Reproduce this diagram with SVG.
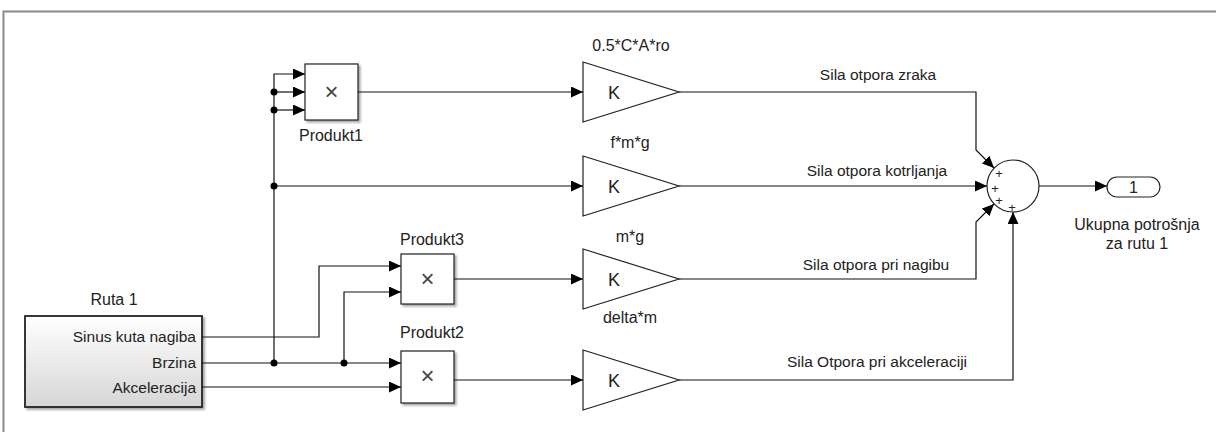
<svg xmlns="http://www.w3.org/2000/svg" width="1216" height="432" viewBox="0 0 1216 432">
<defs>
<marker id="arr" markerUnits="userSpaceOnUse" markerWidth="12" markerHeight="11" refX="12" refY="5.5" orient="auto"><path d="M0,0 L12,5.5 L0,11 z" fill="#000"/></marker>
<linearGradient id="rg" x1="0" y1="0" x2="0" y2="1"><stop offset="0" stop-color="#ffffff"/><stop offset="1" stop-color="#d6d6d6"/></linearGradient>
<filter id="sh" x="-10%" y="-10%" width="130%" height="130%"><feDropShadow dx="2" dy="2" stdDeviation="1.2" flood-color="#000" flood-opacity="0.35"/></filter>
</defs>
<style>
text{font-family:"Liberation Sans",Arial,sans-serif;fill:#222}
.lbl{font-size:16px;text-anchor:middle}
.sig{font-size:15.5px;text-anchor:middle}
.port{font-size:15.5px;text-anchor:end}
.k{font-size:18px;text-anchor:middle}
.x{font-size:24px;text-anchor:middle;fill:#444}
.blk{fill:#fff;stroke:#222;stroke-width:1.2}
.tri{fill:#fff;stroke:#222;stroke-width:1.2}
.w{fill:none;stroke:#111;stroke-width:1.2}
.dot{fill:#000}
.pl{font-size:13px;text-anchor:middle;fill:#222}
</style>
<rect width="1216" height="432" fill="#fff"/>
<path d="M3.5,432 V11.5 H1216" fill="none" stroke="#8a8a8a" stroke-width="2"/>

<g id="ruta1">
<text class="lbl" x="114" y="305">Ruta 1</text>
<rect x="25" y="316" width="177" height="91" fill="url(#rg)" stroke="#222" stroke-width="1.8" filter="url(#sh)"/>
<text class="port" x="196" y="342">Sinus kuta nagiba</text>
<text class="port" x="196" y="368">Brzina</text>
<text class="port" x="196" y="393">Akceleracija</text>
</g>

<g id="produkt1">
<rect class="blk" x="305" y="64" width="53" height="56" filter="url(#sh)"/>
<text class="x" x="331.5" y="100">×</text>
<text class="lbl" x="331" y="141">Produkt1</text>
</g>
<g id="produkt3">
<rect class="blk" x="401" y="254" width="53" height="50" filter="url(#sh)"/>
<text class="x" x="427.5" y="287">×</text>
<text class="lbl" x="432" y="245">Produkt3</text>
</g>
<g id="produkt2">
<rect class="blk" x="401" y="351" width="53" height="52" filter="url(#sh)"/>
<text class="x" x="427.5" y="384">×</text>
<text class="lbl" x="432" y="338">Produkt2</text>
</g>

<g id="gain1">
<polygon class="tri" points="583,62 583,122 679,92"/>
<text class="k" x="614" y="99">K</text>
<text class="lbl" x="631" y="51">0.5*C*A*ro</text>
</g>
<g id="gain2">
<polygon class="tri" points="583,156 583,216 679,186"/>
<text class="k" x="614" y="193">K</text>
<text class="lbl" x="630" y="148">f*m*g</text>
</g>
<g id="gain3">
<polygon class="tri" points="583,249 583,309 679,279"/>
<text class="k" x="614" y="286">K</text>
<text class="lbl" x="630" y="242">m*g</text>
</g>
<g id="gain4">
<polygon class="tri" points="583,350 583,410 679,380"/>
<text class="k" x="614" y="387">K</text>
<text class="lbl" x="630" y="323">delta*m</text>
</g>

<g id="sum">
<circle cx="1013" cy="186" r="26" fill="#fff" stroke="#222" stroke-width="1.2"/>
<text class="pl" x="999" y="178">+</text>
<text class="pl" x="995" y="193">+</text>
<text class="pl" x="999" y="205">+</text>
<text class="pl" x="1012" y="212">+</text>
</g>

<g id="out1">
<rect x="1107" y="177" width="53" height="20" rx="10" fill="#fff" stroke="#222" stroke-width="1.2"/>
<text x="1133.5" y="193" font-size="16" text-anchor="middle">1</text>
<text class="lbl" x="1137" y="230">Ukupna potrošnja</text>
<text class="lbl" x="1137" y="249">za rutu 1</text>
</g>

<g id="connectors">
<path class="w" d="M202,337 H319 V266 H401" marker-end="url(#arr)"/>
<path class="w" d="M202,363 H401" marker-end="url(#arr)"/>
<path class="w" d="M202,387 H401" marker-end="url(#arr)"/>
<path class="w" d="M344,363 V292 H401" marker-end="url(#arr)"/>
<path class="w" d="M274,363 V74 H305" marker-end="url(#arr)"/>
<path class="w" d="M274,92 H305" marker-end="url(#arr)"/>
<path class="w" d="M274,110 H305" marker-end="url(#arr)"/>
<path class="w" d="M274,186 H583" marker-end="url(#arr)"/>
<path class="w" d="M358,92 H583" marker-end="url(#arr)"/>
<path class="w" d="M454,279 H583" marker-end="url(#arr)"/>
<path class="w" d="M454,380 H583" marker-end="url(#arr)"/>
<path class="w" d="M679,92 H976 V150 L994,168" marker-end="url(#arr)"/>
<path class="w" d="M679,186 H987" marker-end="url(#arr)"/>
<path class="w" d="M679,279 H976 V222 L994,204" marker-end="url(#arr)"/>
<path class="w" d="M679,380 H1013 V212" marker-end="url(#arr)"/>
<path class="w" d="M1039,186 H1107" marker-end="url(#arr)"/>
<circle class="dot" cx="274" cy="92" r="3.5"/>
<circle class="dot" cx="274" cy="110" r="3.5"/>
<circle class="dot" cx="274" cy="186" r="3.5"/>
<circle class="dot" cx="274" cy="363" r="3.5"/>
<circle class="dot" cx="344" cy="363" r="3.5"/>
<text class="sig" x="878" y="80">Sila otpora zraka</text>
<text class="sig" x="877" y="176">Sila otpora kotrljanja</text>
<text class="sig" x="876" y="270">Sila otpora pri nagibu</text>
<text class="sig" x="877" y="367">Sila Otpora pri akceleraciji</text>
</g>
</svg>
